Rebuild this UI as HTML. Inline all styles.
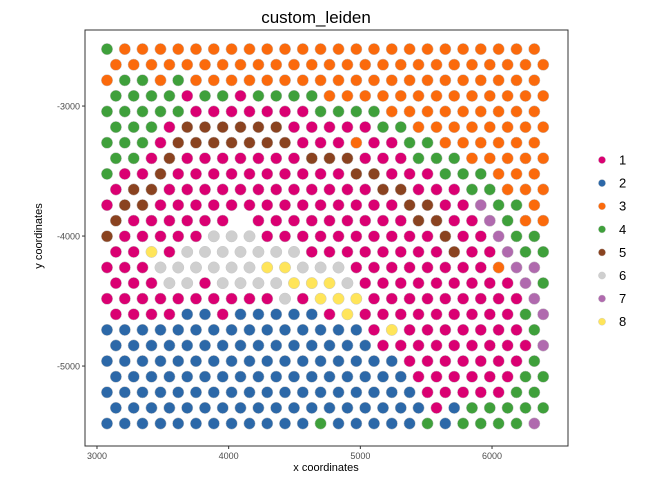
<!DOCTYPE html>
<html><head><meta charset="utf-8"><style>
html,body{margin:0;padding:0;background:#fff;}
svg{display:block;font-family:"Liberation Sans",sans-serif;}
</style></head><body>
<svg id="chart" width="672" height="480" viewBox="0 0 672 480">
<rect x="0" y="0" width="672" height="480" fill="#fff"/>
<text x="316" y="23" text-anchor="middle" font-size="17" fill="#000">custom_leiden</text>
<g id="panel"></g>
<text x="326" y="471" text-anchor="middle" font-size="11" fill="#000">x coordinates</text>
<text x="0" y="0" transform="translate(42,236) rotate(-90)" text-anchor="middle" font-size="11" fill="#000">y coordinates</text>
<g id="legend"></g>
</svg>
<script>
const clusterNames = ["1","2","3","4","5","6","7","8"];
const clusterColors = ["#DA0072","#2C68A8","#FB6A0C","#3FA03B","#8A4320","#CFCFCF","#B06AAE","#FFE55A"];
const xEven = [3076,3211,3346,3482,3617,3752,3887,4022,4158,4293,4428,4563,4698,4834,4969,5104,5239,5374,5510,5645,5780,5915,6050,6186,6321];
const xOdd = [3144,3279,3414,3550,3685,3820,3955,4090,4226,4361,4496,4631,4766,4902,5037,5172,5307,5442,5578,5713,5848,5983,6118,6254,6389];
const rowY = [-2562,-2682,-2802,-2922,-3042,-3162,-3282,-3402,-3522,-3642,-3762,-3882,-4002,-4122,-4242,-4362,-4482,-4602,-4722,-4842,-4962,-5082,-5202,-5322,-5442];
const rowLabels = [
"4333333333333333333333333",
"3333333333333333333333333",
"3443433333333333333333333",
"4444144144443333333333333",
"4444411111114444333333333",
"4441555555111114433333333",
"4441555555511131144333333",
"4415111111155511144433333",
"4115111111111155111444333",
"1551111111111115511144333",
"1551111111111111155117443",
"5111111011111111155117433",
"5111116661111111111511744",
"1181666666611111111511744",
"1116666668866611111111377",
"1116616666888611111111174",
"1111111111618881111111117",
"1111221222221811111111147",
"2222222222222221811111114",
"2222222222222221111111117",
"2222222222222222211111114",
"2222222222222222211111144",
"2222222222222222221111144",
"2222222222222222221244444",
"2222222222224222224244447"
];
const xTicks = [3000,4000,5000,6000];
const yTicks = [-3000,-4000,-5000];

const NS = "http://www.w3.org/2000/svg";
const L = 85, R = 568, T = 30, B = 446;
const xMin = 2909, xMax = 6577, yMin = -5615, yMax = -2415;
function sx(v){ return L + (v - xMin) / (xMax - xMin) * (R - L); }
function sy(v){ return B - (v - yMin) / (yMax - yMin) * (B - T); }
function mk(tag, attrs, parent){ const e = document.createElementNS(NS, tag); for (const k in attrs) e.setAttribute(k, attrs[k]); parent.appendChild(e); return e; }

const panel = document.getElementById("panel");
const bg = mk("rect", {x:L, y:T, width:R-L, height:B-T, fill:"#fff", stroke:"none"}, panel);



rowLabels.forEach((row, r) => {
  const xs = (r % 2 === 0) ? xEven : xOdd;
  for (let k = 0; k < row.length; k++) {
    const c = parseInt(row[k], 10);
    if (!c) continue;
    const col = clusterColors[c - 1];
    const pt = mk("circle", {cx: sx(xs[k]).toFixed(1), cy: sy(rowY[r]).toFixed(1), r: 5.7, fill: col, stroke: "#c8c8c8", "stroke-width": 0.5}, panel);
    
    
  }
});

const border = mk("rect", {x:L, y:T, width:R-L, height:B-T, fill:"none", stroke:"#333", "stroke-width":1}, panel);



xTicks.forEach(v => {
  const x = sx(v);
  const tk = mk("line", {x1:x, x2:x, y1:B, y2:B+3, stroke:"#333"}, panel);
  
  
  const t = mk("text", {x:x, y:B+13, "text-anchor":"middle", "font-size":9, fill:"#4d4d4d"}, panel);
  t.textContent = v;
  
  
});
yTicks.forEach(v => {
  const y = sy(v);
  const tk = mk("line", {x1:L-3, x2:L, y1:y, y2:y, stroke:"#333"}, panel);
  
  
  const t = mk("text", {x:L-5, y:y+3.5, "text-anchor":"end", "font-size":9, fill:"#4d4d4d"}, panel);
  t.textContent = v;
  
  
});

const legend = document.getElementById("legend");
clusterNames.forEach((n, i) => {
  const y = 160 + i * 23.1;
  const d = mk("circle", {cx:602, cy:y, r:3.6, fill:clusterColors[i], stroke:"#c8c8c8", "stroke-width":0.4}, legend);
  
  
  const t = mk("text", {x:619, y:y+4.5, "font-size":13, fill:"#000"}, legend);
  t.textContent = n;
  
  
});
</script>
</body></html>
